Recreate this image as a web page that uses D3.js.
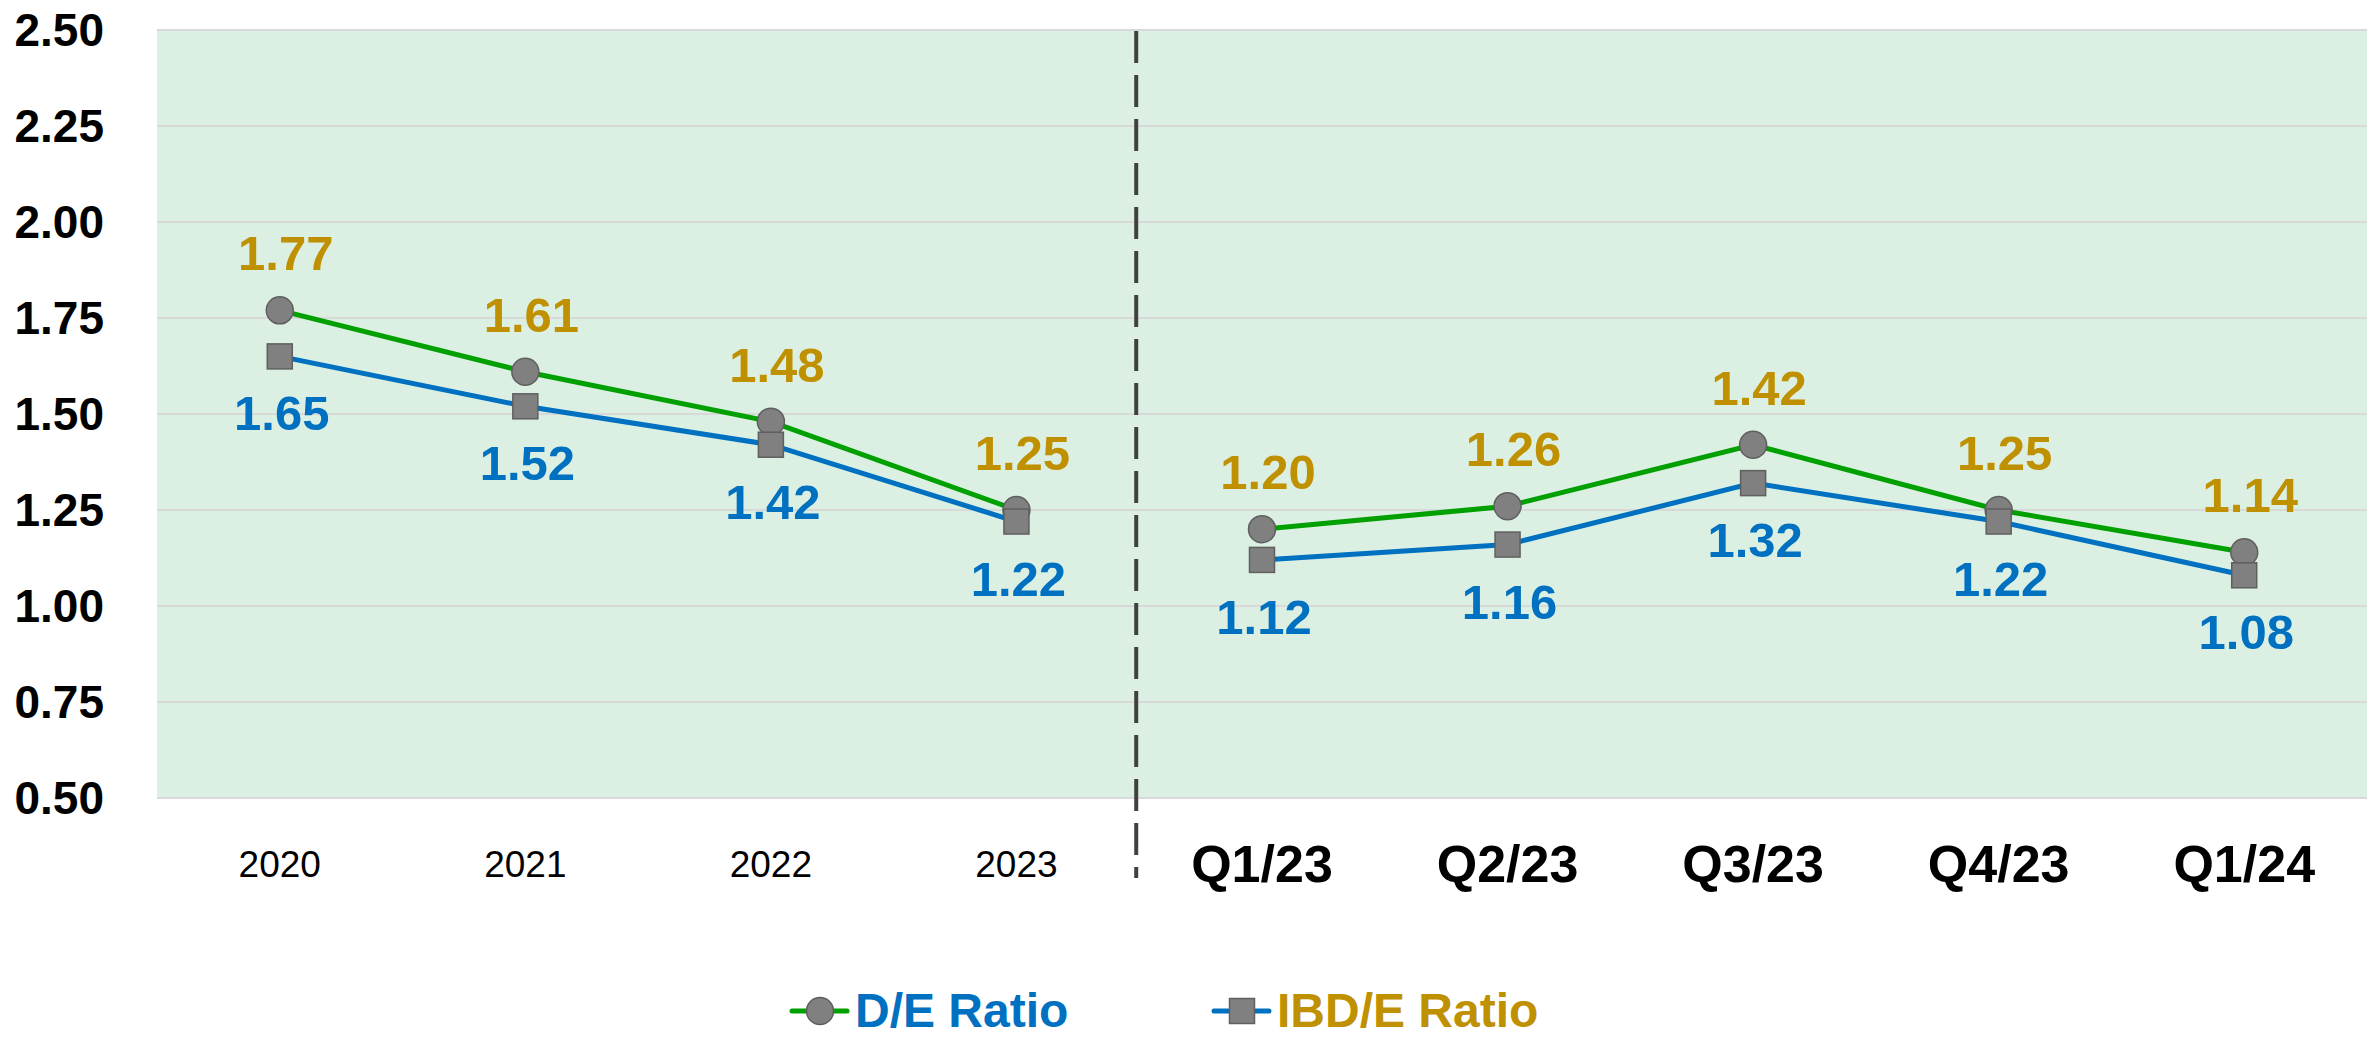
<!DOCTYPE html>
<html>
<head>
<meta charset="utf-8">
<script src="https://cdn.jsdelivr.net/npm/d3@7.9.0/dist/d3.min.js"></script>
<style>
  html, body { margin: 0; padding: 0; background: #fff; }
  svg { display: block; font-family: Arial, "Liberation Sans", sans-serif; }
</style>
</head>
<body>
<svg id="chart" width="2369" height="1038"></svg>
<script>
const years = ['2020', '2021', '2022', '2023'];
const quarters = ['Q1/23', 'Q2/23', 'Q3/23', 'Q4/23', 'Q1/24'];
const categories = years.concat(quarters);
const deRatio = [1.77, 1.61, 1.48, 1.25, 1.20, 1.26, 1.42, 1.25, 1.14];
const ibdRatio = [1.65, 1.52, 1.42, 1.22, 1.12, 1.16, 1.32, 1.22, 1.08];
const yTicks = [0.5, 0.75, 1.0, 1.25, 1.5, 1.75, 2.0, 2.25, 2.5];

const svg = d3.select('#chart');
const plot = { left: 157, right: 2367, top: 30, bottom: 798 };

const x = d3.scalePoint()
  .domain(categories)
  .range([plot.left, plot.right])
  .padding(0.5);

const y = d3.scaleLinear()
  .domain([0.5, 2.5])
  .range([plot.bottom, plot.top]);

// plot background
svg.append('rect')
  .attr('x', plot.left)
  .attr('y', plot.top)
  .attr('width', plot.right - plot.left)
  .attr('height', plot.bottom - plot.top)
  .attr('fill', '#dbf0e3');

// grid lines
svg.append('g')
  .selectAll('line')
  .data(yTicks)
  .join('line')
    .attr('x1', plot.left)
    .attr('x2', plot.right)
    .attr('y1', d => y(d))
    .attr('y2', d => y(d))
    .attr('stroke', '#d9d9d9')
    .attr('stroke-width', 2);

// y axis labels
svg.append('g')
  .selectAll('text')
  .data(yTicks)
  .join('text')
    .attr('x', 104)
    .attr('y', d => y(d))
    .attr('text-anchor', 'end')
    .attr('dominant-baseline', 'central')
    .attr('font-size', 46)
    .attr('font-weight', 'bold')
    .attr('fill', '#000')
    .text(d => d3.format('.2f')(d));

// x axis labels
svg.append('g')
  .selectAll('text')
  .data(categories)
  .join('text')
    .attr('x', d => x(d))
    .attr('y', 864)
    .attr('text-anchor', 'middle')
    .attr('dominant-baseline', 'central')
    .attr('font-size', d => years.includes(d) ? 37 : 52)
    .attr('font-weight', d => years.includes(d) ? 'normal' : 'bold')
    .attr('fill', '#000')
    .text(d => d);

// divider between years and quarters
const divX = (x(years[years.length - 1]) + x(quarters[0])) / 2 - 3;
svg.append('line')
  .attr('x1', divX)
  .attr('x2', divX)
  .attr('y1', plot.top + 1)
  .attr('y2', 878)
  .attr('stroke', '#404040')
  .attr('stroke-width', 4)
  .attr('stroke-dasharray', '32 12');

const series = [
  { name: 'D/E Ratio', values: deRatio, line: '#00a000', label: '#bf9000', marker: 'circle', dy: -57, dx: 6 },
  { name: 'IBD/E Ratio', values: ibdRatio, line: '#0070c0', label: '#0070c0', marker: 'square', dy: 57, dx: 2 }
];

// yearly and quarterly parts are drawn as separate lines
const lineGen = d3.line()
  .x(d => x(d.c))
  .y(d => y(d.v));

function drawMarker(g, type, cx, cy) {
  if (type === 'circle') {
    g.append('circle')
      .attr('cx', cx).attr('cy', cy).attr('r', 13.5)
      .attr('fill', '#808080').attr('stroke', '#5f5f5f').attr('stroke-width', 1.5);
  } else {
    g.append('rect')
      .attr('x', cx - 12.5).attr('y', cy - 12.5)
      .attr('width', 25).attr('height', 25)
      .attr('fill', '#808080').attr('stroke', '#5f5f5f').attr('stroke-width', 1.5);
  }
}

series.forEach(s => {
  const pts = s.values.map((v, i) => ({ c: categories[i], v }));
  const parts = [pts.slice(0, years.length), pts.slice(years.length)];
  svg.append('g')
    .selectAll('path')
    .data(parts)
    .join('path')
      .attr('d', lineGen)
      .attr('fill', 'none')
      .attr('stroke', s.line)
      .attr('stroke-width', 5);
});

series.forEach(s => {
  const g = svg.append('g');
  s.values.forEach((v, i) => drawMarker(g, s.marker, x(categories[i]), y(v)));
});

series.forEach(s => {
  svg.append('g')
    .selectAll('text')
    .data(s.values)
    .join('text')
      .attr('x', (d, i) => x(categories[i]) + s.dx)
      .attr('y', d => y(d) + s.dy)
      .attr('text-anchor', 'middle')
      .attr('dominant-baseline', 'central')
      .attr('font-size', 49)
      .attr('font-weight', 'bold')
      .attr('fill', s.label)
      .text(d => d3.format('.2f')(d));
});

// legend
const legendItems = [
  { name: 'D/E Ratio', line: '#00a000', text: '#0070c0', marker: 'circle', x: 792 },
  { name: 'IBD/E Ratio', line: '#0070c0', text: '#bf9000', marker: 'square', x: 1214 }
];
const legendY = 1011;
legendItems.forEach(item => {
  const g = svg.append('g');
  g.append('line')
    .attr('x1', item.x).attr('x2', item.x + 55)
    .attr('y1', legendY).attr('y2', legendY)
    .attr('stroke', item.line).attr('stroke-width', 5)
    .attr('stroke-linecap', 'round');
  drawMarker(g, item.marker, item.x + 28, legendY);
  g.append('text')
    .attr('x', item.x + 63)
    .attr('y', 1027)
    .attr('font-size', 48)
    .attr('font-weight', 'bold')
    .attr('fill', item.text)
    .text(item.name);
});
</script>
</body>
</html>
